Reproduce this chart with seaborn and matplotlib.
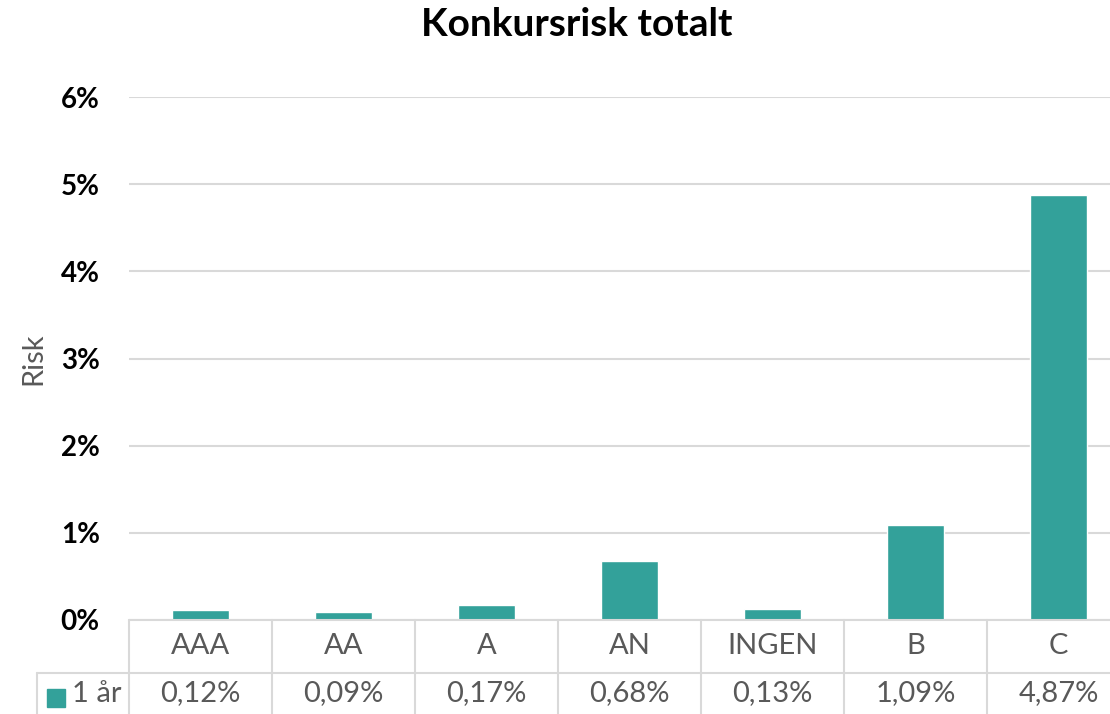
import matplotlib
matplotlib.use('Agg')
import matplotlib.pyplot as plt
import matplotlib.transforms as mtransforms
from matplotlib.lines import Line2D
from matplotlib.patches import Rectangle
import seaborn as sns
import pandas as pd

# Data
categories = ['AAA', 'AA', 'A', 'AN', 'INGEN', 'B', 'C']
risk_pct = [0.12, 0.09, 0.17, 0.68, 0.13, 1.09, 4.87]
series_name = '1 år'
yticks = [0, 1, 2, 3, 4, 5, 6]

df = pd.DataFrame({'rating': categories, 'risk': risk_pct})

sns.set_style('white')
plt.rcParams['font.family'] = ['Lato', 'DejaVu Sans']

bar_color = '#33A19A'
grid_color = '#D9D9D9'
text_gray = '#595959'

W, H = 1110, 714
fig = plt.figure(figsize=(W / 100, H / 100), dpi=100)
# plot area in pixels (extends slightly past right edge like the original)
left, right, top, bottom = 129, 1130, 97, 620
ax = fig.add_axes([left / W, 1 - bottom / H, (right - left) / W, (bottom - top) / H])

sns.barplot(data=df, x='rating', y='risk', color=bar_color, width=0.4,
            saturation=1, ax=ax, zorder=3)

ax.set_ylim(0, 6)
ax.set_xlim(-0.5, len(categories) - 0.5)
ax.set_yticks(yticks)
ax.set_yticklabels([f'{t}%' for t in yticks], fontsize=20, fontweight='bold', color='black')
ax.yaxis.grid(True, color=grid_color, linewidth=1.5, zorder=0)
ax.set_xticks([])
ax.set_xlabel('')
ax.set_ylabel('Risk', fontsize=21, color=text_gray, labelpad=10)
ax.tick_params(axis='y', length=0, pad=21)
for s in ax.spines.values():
    s.set_visible(False)

fig.suptitle('Konkursrisk totalt', fontsize=28, fontweight='bold', color='black',
             x=577 / W, y=1 - 25 / H, va='center')

# data table below the plot
tr = mtransforms.blended_transform_factory(ax.transData, fig.transFigure)
row1_top = 1 - 620 / H
row2_top = 1 - 673 / H
fig_bottom = 0.0
n = len(categories)
lw = 1.5

ax.add_line(Line2D([-0.5, n - 0.5], [row1_top, row1_top], transform=tr, color=grid_color,
                   lw=lw, clip_on=False, zorder=4))
fig.add_artist(Line2D([37 / W, 1], [row2_top, row2_top], color=grid_color, lw=lw))
fig.add_artist(Line2D([37 / W, 37 / W], [fig_bottom, row2_top], color=grid_color, lw=lw))
for i in range(n + 1):
    ax.add_line(Line2D([i - 0.5, i - 0.5], [fig_bottom, row1_top], transform=tr,
                       color=grid_color, lw=lw, clip_on=False))

for i, (cat, val) in enumerate(zip(categories, risk_pct)):
    ax.text(i, (row1_top + row2_top) / 2, cat, transform=tr, ha='center', va='center',
            fontsize=21, color=text_gray, clip_on=False)
    ax.text(i, row2_top / 2, f'{val:.2f}%'.replace('.', ','), transform=tr, ha='center',
            va='center', fontsize=21, color=text_gray, clip_on=False)

# legend key in the table
fig.add_artist(Rectangle((47 / W, 1 - 707 / H), 18 / W, 18 / H, color=bar_color,
                         transform=fig.transFigure))
fig.text(72 / W, row2_top / 2, series_name, ha='left', va='center', fontsize=21, color=text_gray)

fig.savefig('out.png', dpi=100)
